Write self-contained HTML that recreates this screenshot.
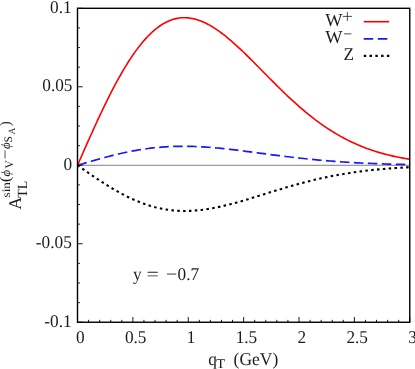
<!DOCTYPE html>
<html><head><meta charset="utf-8"><style>
html,body{margin:0;padding:0;background:#fff;}
svg{display:block;text-rendering:geometricPrecision;font-family:"Liberation Serif",serif;font-size:17.3px;fill:#1c1c1c;}
</style></head><body>
<svg width="415" height="369" viewBox="0 0 415 369">
<rect width="415" height="369" fill="#fff"/>
<line x1="77.5" y1="165.28" x2="409.75" y2="165.28" stroke="#808080" stroke-width="1.0"/>
<path d="M77.50,165.28 L79.72,166.83 L81.93,168.38 L84.14,169.92 L86.36,171.47 L88.58,173.00 L90.79,174.52 L93.00,176.03 L95.22,177.53 L97.44,179.01 L99.65,180.48 L101.86,181.92 L104.08,183.35 L106.30,184.75 L108.51,186.13 L110.72,187.48 L112.94,188.80 L115.16,190.10 L117.37,191.37 L119.59,192.60 L121.80,193.80 L124.01,194.97 L126.23,196.10 L128.44,197.19 L130.66,198.25 L132.88,199.27 L135.09,200.25 L137.31,201.18 L139.52,202.08 L141.74,202.94 L143.95,203.75 L146.17,204.52 L148.38,205.25 L150.59,205.93 L152.81,206.57 L155.02,207.17 L157.24,207.72 L159.45,208.22 L161.67,208.69 L163.88,209.11 L166.10,209.48 L168.31,209.81 L170.53,210.10 L172.75,210.35 L174.96,210.55 L177.18,210.71 L179.39,210.83 L181.61,210.91 L183.82,210.95 L186.04,210.95 L188.25,210.91 L190.46,210.84 L192.68,210.72 L194.89,210.57 L197.11,210.39 L199.32,210.17 L201.54,209.92 L203.75,209.64 L205.97,209.33 L208.19,208.99 L210.40,208.62 L212.61,208.22 L214.83,207.80 L217.04,207.35 L219.26,206.88 L221.47,206.39 L223.69,205.88 L225.91,205.34 L228.12,204.79 L230.33,204.22 L232.55,203.64 L234.76,203.03 L236.98,202.42 L239.19,201.79 L241.41,201.15 L243.62,200.51 L245.84,199.85 L248.06,199.18 L250.27,198.51 L252.49,197.83 L254.70,197.15 L256.91,196.46 L259.13,195.77 L261.35,195.08 L263.56,194.38 L265.77,193.69 L267.99,193.00 L270.21,192.31 L272.42,191.62 L274.63,190.94 L276.85,190.26 L279.07,189.58 L281.28,188.91 L283.50,188.25 L285.71,187.59 L287.92,186.94 L290.14,186.29 L292.36,185.66 L294.57,185.03 L296.78,184.42 L299.00,183.81 L301.22,183.21 L303.43,182.62 L305.64,182.05 L307.86,181.48 L310.08,180.93 L312.29,180.38 L314.50,179.85 L316.72,179.33 L318.94,178.82 L321.15,178.32 L323.37,177.84 L325.58,177.36 L327.79,176.90 L330.01,176.45 L332.23,176.01 L334.44,175.59 L336.65,175.17 L338.87,174.77 L341.08,174.38 L343.30,174.00 L345.51,173.64 L347.73,173.28 L349.94,172.94 L352.16,172.61 L354.38,172.28 L356.59,171.97 L358.81,171.67 L361.02,171.38 L363.24,171.10 L365.45,170.83 L367.67,170.57 L369.88,170.32 L372.10,170.08 L374.31,169.85 L376.53,169.63 L378.74,169.42 L380.96,169.21 L383.17,169.02 L385.38,168.83 L387.60,168.65 L389.81,168.47 L392.03,168.31 L394.25,168.15 L396.46,168.00 L398.68,167.85 L400.89,167.72 L403.10,167.59 L405.32,167.46 L407.54,167.34 L409.75,167.23" fill="none" stroke="#000" stroke-width="2.1" stroke-dasharray="2.5 3.35"/>
<path d="M77.50,165.28 L79.72,164.62 L81.93,163.96 L84.14,163.31 L86.36,162.65 L88.58,162.00 L90.79,161.36 L93.00,160.72 L95.22,160.09 L97.44,159.46 L99.65,158.84 L101.86,158.23 L104.08,157.63 L106.30,157.04 L108.51,156.45 L110.72,155.88 L112.94,155.33 L115.16,154.78 L117.37,154.25 L119.59,153.73 L121.80,153.23 L124.01,152.74 L126.23,152.27 L128.44,151.81 L130.66,151.37 L132.88,150.95 L135.09,150.54 L137.31,150.15 L139.52,149.78 L141.74,149.43 L143.95,149.09 L146.17,148.78 L148.38,148.48 L150.59,148.20 L152.81,147.94 L155.02,147.70 L157.24,147.48 L159.45,147.28 L161.67,147.10 L163.88,146.93 L166.10,146.79 L168.31,146.66 L170.53,146.55 L172.75,146.46 L174.96,146.39 L177.18,146.34 L179.39,146.30 L181.61,146.28 L183.82,146.28 L186.04,146.30 L188.25,146.33 L190.46,146.38 L192.68,146.44 L194.89,146.52 L197.11,146.61 L199.32,146.71 L201.54,146.83 L203.75,146.97 L205.97,147.11 L208.19,147.27 L210.40,147.44 L212.61,147.62 L214.83,147.81 L217.04,148.01 L219.26,148.22 L221.47,148.44 L223.69,148.67 L225.91,148.91 L228.12,149.15 L230.33,149.40 L232.55,149.66 L234.76,149.92 L236.98,150.19 L239.19,150.46 L241.41,150.73 L243.62,151.01 L245.84,151.30 L248.06,151.58 L250.27,151.87 L252.49,152.16 L254.70,152.46 L256.91,152.75 L259.13,153.04 L261.35,153.34 L263.56,153.63 L265.77,153.92 L267.99,154.21 L270.21,154.50 L272.42,154.79 L274.63,155.08 L276.85,155.36 L279.07,155.65 L281.28,155.93 L283.50,156.20 L285.71,156.48 L287.92,156.75 L290.14,157.01 L292.36,157.27 L294.57,157.53 L296.78,157.79 L299.00,158.03 L301.22,158.28 L303.43,158.52 L305.64,158.76 L307.86,158.99 L310.08,159.21 L312.29,159.43 L314.50,159.65 L316.72,159.86 L318.94,160.06 L321.15,160.26 L323.37,160.46 L325.58,160.65 L327.79,160.83 L330.01,161.01 L332.23,161.19 L334.44,161.36 L336.65,161.52 L338.87,161.68 L341.08,161.84 L343.30,161.98 L345.51,162.13 L347.73,162.27 L349.94,162.40 L352.16,162.53 L354.38,162.66 L356.59,162.78 L358.81,162.90 L361.02,163.01 L363.24,163.12 L365.45,163.22 L367.67,163.32 L369.88,163.42 L372.10,163.51 L374.31,163.60 L376.53,163.68 L378.74,163.76 L380.96,163.84 L383.17,163.92 L385.38,163.99 L387.60,164.06 L389.81,164.12 L392.03,164.18 L394.25,164.24 L396.46,164.30 L398.68,164.35 L400.89,164.40 L403.10,164.45 L405.32,164.50 L407.54,164.54 L409.75,164.59" fill="none" stroke="#1818ff" stroke-width="1.7" stroke-dasharray="9.55 4.42"/>
<path d="M77.50,165.28 L79.72,160.23 L81.93,155.20 L84.14,150.18 L86.36,145.18 L88.58,140.20 L90.79,135.26 L93.00,130.35 L95.22,125.49 L97.44,120.68 L99.65,115.93 L101.86,111.24 L104.08,106.61 L106.30,102.06 L108.51,97.60 L110.72,93.21 L112.94,88.92 L115.16,84.72 L117.37,80.62 L119.59,76.62 L121.80,72.74 L124.01,68.96 L126.23,65.30 L128.44,61.76 L130.66,58.35 L132.88,55.06 L135.09,51.90 L137.31,48.87 L139.52,45.98 L141.74,43.22 L143.95,40.60 L146.17,38.12 L148.38,35.78 L150.59,33.59 L152.81,31.53 L155.02,29.63 L157.24,27.86 L159.45,26.24 L161.67,24.77 L163.88,23.43 L166.10,22.24 L168.31,21.20 L170.53,20.29 L172.75,19.52 L174.96,18.89 L177.18,18.40 L179.39,18.04 L181.61,17.82 L183.82,17.72 L186.04,17.75 L188.25,17.91 L190.46,18.19 L192.68,18.59 L194.89,19.10 L197.11,19.72 L199.32,20.46 L201.54,21.30 L203.75,22.24 L205.97,23.28 L208.19,24.42 L210.40,25.65 L212.61,26.96 L214.83,28.36 L217.04,29.84 L219.26,31.39 L221.47,33.01 L223.69,34.70 L225.91,36.46 L228.12,38.27 L230.33,40.14 L232.55,42.06 L234.76,44.03 L236.98,46.04 L239.19,48.09 L241.41,50.18 L243.62,52.29 L245.84,54.44 L248.06,56.61 L250.27,58.81 L252.49,61.02 L254.70,63.24 L256.91,65.48 L259.13,67.72 L261.35,69.97 L263.56,72.22 L265.77,74.47 L267.99,76.71 L270.21,78.95 L272.42,81.18 L274.63,83.40 L276.85,85.60 L279.07,87.78 L281.28,89.95 L283.50,92.10 L285.71,94.22 L287.92,96.32 L290.14,98.40 L292.36,100.45 L294.57,102.46 L296.78,104.45 L299.00,106.41 L301.22,108.33 L303.43,110.22 L305.64,112.08 L307.86,113.90 L310.08,115.68 L312.29,117.42 L314.50,119.13 L316.72,120.80 L318.94,122.44 L321.15,124.03 L323.37,125.58 L325.58,127.10 L327.79,128.57 L330.01,130.01 L332.23,131.41 L334.44,132.77 L336.65,134.09 L338.87,135.37 L341.08,136.61 L343.30,137.82 L345.51,138.99 L347.73,140.12 L349.94,141.21 L352.16,142.27 L354.38,143.29 L356.59,144.28 L358.81,145.23 L361.02,146.15 L363.24,147.03 L365.45,147.89 L367.67,148.71 L369.88,149.50 L372.10,150.26 L374.31,150.99 L376.53,151.69 L378.74,152.36 L380.96,153.01 L383.17,153.63 L385.38,154.22 L387.60,154.79 L389.81,155.33 L392.03,155.85 L394.25,156.35 L396.46,156.83 L398.68,157.28 L400.89,157.71 L403.10,158.12 L405.32,158.52 L407.54,158.89 L409.75,159.25" fill="none" stroke="#ff0000" stroke-width="1.6"/>
<rect x="77.5" y="8.3" width="332.25" height="313.95" fill="none" stroke="#000" stroke-width="1.4"/>
<g stroke="#000" stroke-width="0.9"><line x1="77.50" y1="322.25" x2="77.50" y2="317.05"/><line x1="88.58" y1="322.25" x2="88.58" y2="319.85"/><line x1="99.65" y1="322.25" x2="99.65" y2="319.85"/><line x1="110.72" y1="322.25" x2="110.72" y2="319.85"/><line x1="121.80" y1="322.25" x2="121.80" y2="319.85"/><line x1="132.88" y1="322.25" x2="132.88" y2="317.05"/><line x1="143.95" y1="322.25" x2="143.95" y2="319.85"/><line x1="155.03" y1="322.25" x2="155.03" y2="319.85"/><line x1="166.10" y1="322.25" x2="166.10" y2="319.85"/><line x1="177.18" y1="322.25" x2="177.18" y2="319.85"/><line x1="188.25" y1="322.25" x2="188.25" y2="317.05"/><line x1="199.32" y1="322.25" x2="199.32" y2="319.85"/><line x1="210.40" y1="322.25" x2="210.40" y2="319.85"/><line x1="221.47" y1="322.25" x2="221.47" y2="319.85"/><line x1="232.55" y1="322.25" x2="232.55" y2="319.85"/><line x1="243.62" y1="322.25" x2="243.62" y2="317.05"/><line x1="254.70" y1="322.25" x2="254.70" y2="319.85"/><line x1="265.77" y1="322.25" x2="265.77" y2="319.85"/><line x1="276.85" y1="322.25" x2="276.85" y2="319.85"/><line x1="287.93" y1="322.25" x2="287.93" y2="319.85"/><line x1="299.00" y1="322.25" x2="299.00" y2="317.05"/><line x1="310.08" y1="322.25" x2="310.08" y2="319.85"/><line x1="321.15" y1="322.25" x2="321.15" y2="319.85"/><line x1="332.23" y1="322.25" x2="332.23" y2="319.85"/><line x1="343.30" y1="322.25" x2="343.30" y2="319.85"/><line x1="354.38" y1="322.25" x2="354.38" y2="317.05"/><line x1="365.45" y1="322.25" x2="365.45" y2="319.85"/><line x1="376.53" y1="322.25" x2="376.53" y2="319.85"/><line x1="387.60" y1="322.25" x2="387.60" y2="319.85"/><line x1="398.68" y1="322.25" x2="398.68" y2="319.85"/><line x1="409.75" y1="322.25" x2="409.75" y2="317.05"/><line x1="77.50" y1="322.25" x2="82.70" y2="322.25"/><line x1="77.50" y1="302.63" x2="79.90" y2="302.63"/><line x1="77.50" y1="283.01" x2="79.90" y2="283.01"/><line x1="77.50" y1="263.38" x2="79.90" y2="263.38"/><line x1="77.50" y1="243.76" x2="82.70" y2="243.76"/><line x1="77.50" y1="224.14" x2="79.90" y2="224.14"/><line x1="77.50" y1="204.52" x2="79.90" y2="204.52"/><line x1="77.50" y1="184.90" x2="79.90" y2="184.90"/><line x1="77.50" y1="165.28" x2="82.70" y2="165.28"/><line x1="77.50" y1="145.65" x2="79.90" y2="145.65"/><line x1="77.50" y1="126.03" x2="79.90" y2="126.03"/><line x1="77.50" y1="106.41" x2="79.90" y2="106.41"/><line x1="77.50" y1="86.79" x2="82.70" y2="86.79"/><line x1="77.50" y1="67.17" x2="79.90" y2="67.17"/><line x1="77.50" y1="47.54" x2="79.90" y2="47.54"/><line x1="77.50" y1="27.92" x2="79.90" y2="27.92"/><line x1="77.50" y1="8.30" x2="82.70" y2="8.30"/></g>
<g opacity="0.999">
<g><text transform="translate(80.30,343.4) scale(1,1.04)" text-anchor="middle">0</text><text transform="translate(135.68,343.4) scale(1,1.04)" text-anchor="middle">0.5</text><text transform="translate(191.05,343.4) scale(1,1.04)" text-anchor="middle">1</text><text transform="translate(246.43,343.4) scale(1,1.04)" text-anchor="middle">1.5</text><text transform="translate(301.80,343.4) scale(1,1.04)" text-anchor="middle">2</text><text transform="translate(357.18,343.4) scale(1,1.04)" text-anchor="middle">2.5</text><text transform="translate(412.55,343.4) scale(1,1.04)" text-anchor="middle">3</text></g>
<g><text transform="translate(71.60,12.70) scale(1,1.04)" text-anchor="end">0.1</text><text transform="translate(72.50,91.30) scale(1,1.04)" text-anchor="end">0.05</text><text transform="translate(72.20,169.80) scale(1,1.04)" text-anchor="end">0</text><text transform="translate(71.80,248.40) scale(1,1.04)" text-anchor="end">-0.05</text><text transform="translate(71.60,327.10) scale(1,1.04)" text-anchor="end">-0.1</text></g>
<text transform="translate(133.00,279.80) scale(1,1.040)" style="font-size:17.30px" >y</text><text transform="translate(146.60,279.80) scale(1,1.040)" style="font-size:17.30px" textLength="12.4" lengthAdjust="spacingAndGlyphs">=</text><text transform="translate(166.00,279.80) scale(1,1.040)" style="font-size:17.30px" textLength="11.2" lengthAdjust="spacingAndGlyphs">−</text><text transform="translate(177.60,279.80) scale(1,1.040)" style="font-size:17.30px" textLength="21.6" lengthAdjust="spacingAndGlyphs">0.7</text>
<text transform="translate(208.30,365.00) scale(1,1.040)" style="font-size:17.30px" >q</text><text transform="translate(216.30,367.70) scale(1.100,1.000)" style="font-size:13.20px" >T</text><text transform="translate(233.60,365.00) scale(1,1.040)" style="font-size:17.30px" textLength="44.6" lengthAdjust="spacingAndGlyphs">(GeV)</text>
<g transform="rotate(-90)"><text transform="translate(-209.80,21.30) scale(1.000,1.000)" style="font-size:17.90px" >A</text><text transform="translate(-197.70,26.50) scale(1.000,1.000)" style="font-size:14.00px" >TL</text><text transform="translate(-197.50,9.90) scale(1.140,1.000)" style="font-size:11.60px" >sin</text><text transform="translate(-182.20,10.20) scale(1.150,1.000)" style="font-size:15.00px" >(</text><text transform="translate(-176.40,9.90) scale(1.000,1.000)" style="font-size:12.80px" font-style="italic">ϕ</text><text transform="translate(-168.60,13.10) scale(1.000,1.000)" style="font-size:11.50px" >V</text><text transform="translate(-159.50,10.40) scale(1.200,1.000)" style="font-size:15.00px" >−</text><text transform="translate(-149.10,9.90) scale(1.000,1.000)" style="font-size:12.80px" font-style="italic">ϕ</text><text transform="translate(-142.60,12.30) scale(1.000,1.000)" style="font-size:11.50px" >S</text><text transform="translate(-134.60,15.00) scale(1.000,1.000)" style="font-size:9.60px" >A</text><text transform="translate(-126.20,10.20) scale(1.000,1.000)" style="font-size:15.00px" >)</text></g>
<text transform="translate(325.20,25.70) scale(1.060,1.060)" style="font-size:17.30px" >W</text><path d="M342.8,16.4H351.9M347.35,11.9V21" stroke="#222" stroke-width="0.8" fill="none"/>
<text transform="translate(325.20,42.90) scale(1.060,1.060)" style="font-size:17.30px" >W</text><path d="M343.9,33.85H351.4" stroke="#222" stroke-width="0.8" fill="none"/>
<text transform="translate(343.60,60.00) scale(1,1.040)" style="font-size:17.30px" >Z</text>
</g>
<line x1="363.7" y1="21.7" x2="389.2" y2="21.7" stroke="#ff0000" stroke-width="1.6"/>
<line x1="363.7" y1="38.85" x2="387.3" y2="38.85" stroke="#1818ff" stroke-width="1.9" stroke-dasharray="9.5 4.6"/>
<line x1="363.8" y1="55.85" x2="389.5" y2="55.85" stroke="#000" stroke-width="2.1" stroke-dasharray="2.4 3.38"/>
</svg>
</body></html>
